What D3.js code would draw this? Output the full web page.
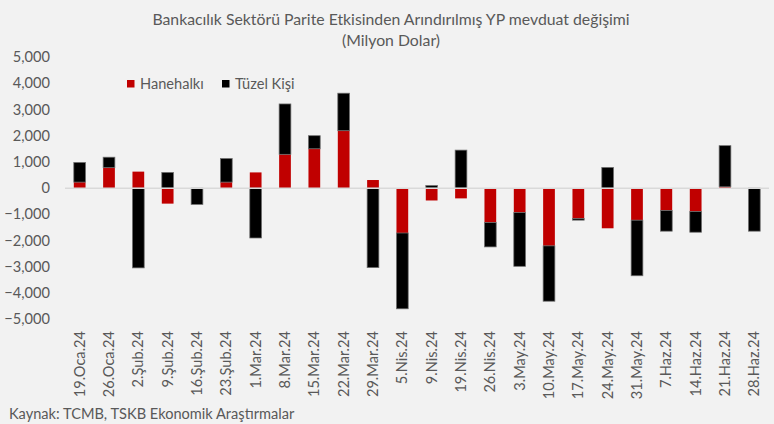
<!DOCTYPE html>
<html lang="tr">
<head>
<meta charset="UTF-8">
<title>YP mevduat değişimi</title>
<script src="https://d3js.org/d3.v7.min.js"></script>
<style>
    body { margin: 0; background: #f2f2f2; }
    svg { display: block; font-family: Lato, "Open Sans", sans-serif; }
</style>
</head>
<body>
<div id="chart"></div>
<script>
// weekly dates
const dates = ["19.Oca.24", "26.Oca.24", "2.Şub.24", "9.Şub.24", "16.Şub.24", "23.Şub.24",
    "1.Mar.24", "8.Mar.24", "15.Mar.24", "22.Mar.24", "29.Mar.24", "5.Nis.24",
    "9.Nis.24", "19.Nis.24", "26.Nis.24", "3.May.24", "10.May.24", "17.May.24",
    "24.May.24", "31.May.24", "7.Haz.24", "14.Haz.24", "21.Haz.24", "28.Haz.24"];

// million USD
const hanehalki = [230, 780, 630, -590, 0, 230, 600, 1290, 1500, 2190, 310, -1710,
    -470, -390, -1310, -930, -2200, -1160, -1530, -1220, -850, -890, 50, 0];
const tuzelKisi = [750, 400, -3040, 600, -620, 900, -1900, 1920, 500, 1430, -3030, -2890,
    100, 1450, -930, -2050, -2110, -60, 790, -2120, -790, -790, 1570, -1640];

const yTicks = [5000, 4000, 3000, 2000, 1000, 0, -1000, -2000, -3000, -4000, -5000];

const W = 774, H = 424;
const margin = { top: 57, right: 5, bottom: 105, left: 65 };
const textCol = "#595959";
const fs = "14.6px";

const svg = d3.select("#chart").append("svg")
    .attr("width", W)
    .attr("height", H);

svg.append("rect").attr("width", W).attr("height", H).attr("fill", "#f2f2f2");

// title
svg.append("text")
    .attr("x", 391).attr("y", 25)
    .attr("text-anchor", "middle")
    .attr("fill", textCol)
    .style("font-size", "15.8px")
    .text("Bankacılık Sektörü Parite Etkisinden Arındırılmış YP mevduat değişimi");
svg.append("text")
    .attr("x", 391).attr("y", 46)
    .attr("text-anchor", "middle")
    .attr("fill", textCol)
    .style("font-size", "15.8px")
    .text("(Milyon Dolar)");

const rows = dates.map((d, i) => ({ date: d, hane: hanehalki[i], tuzel: tuzelKisi[i] }));

const stack = d3.stack()
    .keys(["hane", "tuzel"])
    .offset(d3.stackOffsetDiverging);
const series = stack(rows);

const x = d3.scaleBand()
    .domain(dates)
    .range([margin.left, W - margin.right])
    .paddingInner(0.6)
    .paddingOuter(0.3);

const y = d3.scaleLinear()
    .domain([-5000, 5000])
    .range([319.3, 57]);

// y axis labels
svg.append("g")
    .selectAll("text")
    .data(yTicks)
    .join("text")
    .attr("x", 50)
    .attr("y", d => y(d))
    .attr("dy", "0.35em")
    .attr("text-anchor", "end")
    .attr("fill", textCol)
    .style("font-size", fs)
    .text(d => d3.format(",")(d));

const colors = { hane: "#c00000", tuzel: "#000000" };
const strokes = { hane: "none", tuzel: "#6f6f6f" };

svg.append("g")
    .selectAll("g")
    .data(series)
    .join("g")
    .attr("fill", d => colors[d.key])
    .attr("stroke", d => strokes[d.key])
    .attr("stroke-width", 0.75)
    .selectAll("rect")
    .data(d => d)
    .join("rect")
    .attr("x", d => x(d.data.date))
    .attr("width", x.bandwidth())
    .attr("y", d => y(Math.max(d[0], d[1])))
    .attr("height", d => Math.abs(y(d[0]) - y(d[1])));

// zero line
svg.append("line")
    .attr("x1", margin.left).attr("x2", W - margin.right)
    .attr("y1", y(0)).attr("y2", y(0))
    .attr("stroke", "#d9d9d9")
    .attr("stroke-width", 1.5);

// x labels
svg.append("g")
    .selectAll("text")
    .data(dates)
    .join("text")
    .attr("transform", d => `translate(${x(d) + x.bandwidth() / 2 + 5},331) rotate(-90)`)
    .attr("text-anchor", "end")
    .attr("fill", textCol)
    .style("font-size", fs)
    .text(d => d);

// legend
const legend = [
    { label: "Hanehalkı", color: colors.hane, x: 127 },
    { label: "Tüzel Kişi", color: colors.tuzel, x: 222 }
];
const lg = svg.append("g").selectAll("g").data(legend).join("g")
    .attr("transform", d => `translate(${d.x},80)`);
lg.append("rect").attr("width", 7.5).attr("height", 7.5).attr("fill", d => d.color);
lg.append("text")
    .attr("x", 13).attr("y", 4)
    .attr("dy", "0.35em")
    .attr("fill", textCol)
    .style("font-size", fs)
    .text(d => d.label);

// source
svg.append("text")
    .attr("x", 9).attr("y", 419)
    .attr("fill", textCol)
    .style("font-size", fs)
    .text("Kaynak: TCMB, TSKB Ekonomik Araştırmalar");
</script>
</body>
</html>
